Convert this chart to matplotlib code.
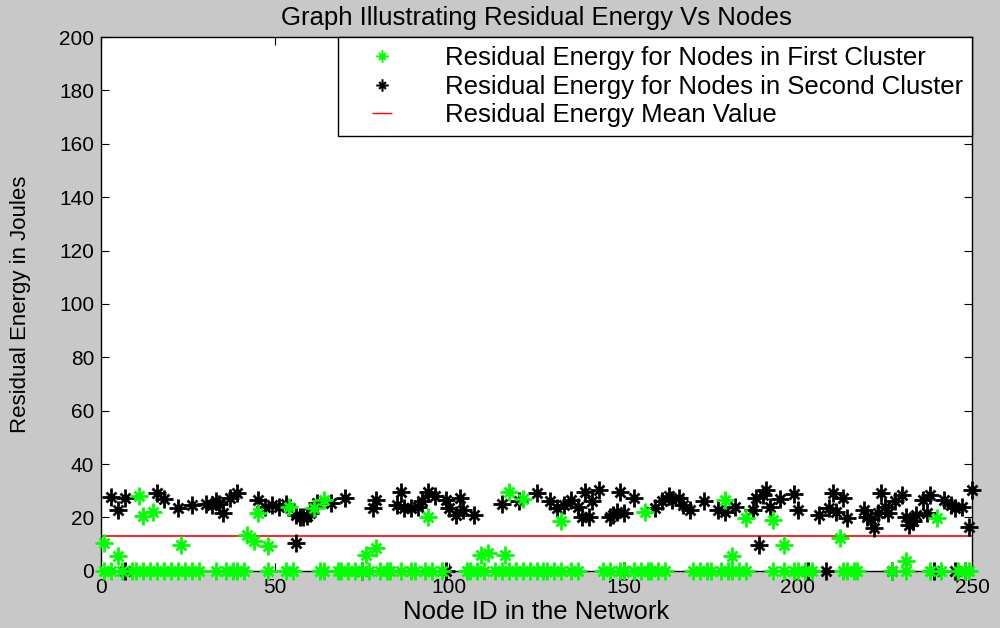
import matplotlib
matplotlib.use("Agg")
from matplotlib import pyplot as plt
from matplotlib.path import Path
from matplotlib.lines import Line2D

# node ids / residual energy, first cluster (green)
g_nodes = [1, 5, 11, 12, 15, 23, 42, 44, 45, 48, 54, 61, 64, 76, 79, 94,
           109, 111, 116, 117, 121, 132, 156, 179, 181, 185, 193, 196, 212, 231, 240]
g_energy = [10.4, 5.4, 28.2, 20.7, 22.0, 9.7, 13.5, 11.2, 21.6, 9.3, 24.1, 23.5, 26.6, 6.0, 8.5, 20.3,
            6.0, 6.8, 6.0, 29.7, 27.0, 18.5, 22.0, 26.6, 5.4, 19.7, 19.1, 9.5, 12.2, 3.7, 19.7]
# first cluster nodes that are drained (0 J)
g_dead = [1, 3, 6, 9, 10, 12, 14, 16, 18, 20, 22, 24, 26, 28, 33, 36, 38, 39, 41, 48, 53, 55,
          63, 64, 68, 69, 71, 73, 75, 77, 80, 82, 83, 86, 89, 90, 93, 95, 98, 105, 106, 108, 110,
          113, 115, 117, 119, 121, 123, 125, 127, 128, 130, 132, 135, 137, 144, 146, 149, 150, 153,
          155, 157, 158, 160, 162, 170, 172, 174, 175, 178, 180, 181, 183, 185, 193, 196, 199, 200,
          202, 204, 213, 214, 216, 217, 227, 231, 238, 241, 246, 248, 249]

# second cluster (black)
k_nodes = [3, 5, 7, 16, 18, 22, 26, 30, 32, 33, 34, 35, 37, 39, 45, 47, 49, 51, 53, 56, 56, 57,
           58, 59, 60, 62, 66, 70, 78, 79, 85, 86, 87, 89, 91, 92, 94, 96, 99, 100, 102, 103, 104,
           107, 115, 120, 125, 129, 131, 133, 135, 137, 138, 139, 140, 141, 143, 146, 147, 148,
           149, 150, 153, 159, 161, 163, 164, 166, 167, 169, 173, 177, 179, 182, 187, 188, 189,
           190, 191, 192, 195, 199, 200, 206, 209, 210, 211, 213, 214, 219, 220, 221, 222, 223,
           224, 225, 226, 228, 230, 231, 232, 233, 234, 236, 237, 238, 242, 244, 245, 247, 249, 250]
k_energy = [27.5, 22.8, 27.2, 29.1, 27.0, 23.5, 24.5, 25.0, 24.5, 26.0, 25.0, 21.6, 27.2, 29.1,
            26.6, 24.1, 24.5, 24.0, 25.0, 21.0, 10.4, 20.0, 20.0, 20.5, 21.5, 25.5, 25.4, 27.2,
            23.5, 26.6, 24.7, 29.7, 23.5, 23.5, 24.0, 26.2, 29.7, 28.2, 26.6, 23.5, 21.0, 27.2,
            22.8, 21.0, 25.0, 26.2, 29.1, 26.0, 23.5, 24.7, 26.6, 24.1, 20.3, 29.7, 20.3, 26.0,
            30.3, 20.0, 21.0, 22.0, 29.7, 21.6, 27.2, 23.5, 26.2, 28.2, 26.6, 27.2, 24.7, 22.8,
            26.2, 22.8, 22.2, 24.1, 22.8, 27.2, 9.7, 28.5, 30.3, 24.1, 27.0, 28.7, 22.8, 21.0,
            23.5, 29.1, 22.2, 27.2, 19.7, 22.8, 20.3, 19.5, 16.0, 21.6, 29.1, 24.1, 21.6, 26.0,
            28.5, 20.3, 17.2, 18.5, 21.0, 26.6, 21.6, 28.5, 26.6, 24.7, 23.5, 24.1, 16.6, 30.3]
k_dead = [7, 75, 99, 150, 203, 208, 227, 239, 245, 248]

mean_energy = 13.2

# MATLAB style '*' marker: long cross + short diagonals
a = 0.55
star = Path([(-1, 0), (1, 0), (0, -1), (0, 1), (-a, -a), (a, a), (-a, a), (a, -a)],
            [Path.MOVETO, Path.LINETO] * 4)

plt.rcParams['font.family'] = ['Liberation Sans', 'DejaVu Sans']

fig = plt.figure(figsize=(10, 6.28), dpi=100, facecolor='#c8c8c8')
ax = fig.add_axes([0.101, 0.091, 0.871, 0.850])

ax.plot(g_nodes + g_dead, g_energy + [0] * len(g_dead), linestyle='none', marker=star,
        color='#00ff00', markersize=13, mew=2.0, clip_on=False, zorder=3)
ax.plot(k_nodes + k_dead, k_energy + [0] * len(k_dead), linestyle='none', marker=star,
        color='black', markersize=13, mew=2.0, clip_on=False, zorder=2)
ax.plot([0, 250], [mean_energy, mean_energy], color='#ff0000', linewidth=1.2, zorder=1)

ax.set_xlim(0, 250)
ax.set_ylim(0, 200)
ax.set_xticks(range(0, 251, 50))
ax.set_yticks(range(0, 201, 20))
ax.tick_params(direction='in', top=True, right=True, length=6, labelsize=15, pad=5)
for s in ax.spines.values():
    s.set_linewidth(1.0)

ax.set_title('Graph Illustrating Residual Energy Vs Nodes', fontsize=18.5, pad=9)
ax.set_xlabel('Node ID in the Network', fontsize=18.5, labelpad=2)
ax.set_ylabel('Residual Energy in Joules', fontsize=16, labelpad=20)

handles = [
    Line2D([], [], linestyle='none', marker=star, color='#00ff00', markersize=9, mew=1.5),
    Line2D([], [], linestyle='none', marker=star, color='black', markersize=9, mew=1.5),
    Line2D([], [], linestyle='none', marker='_', color='#ff0000', markersize=14, mew=1.0),
]
labels = ['Residual Energy for Nodes in First Cluster',
          'Residual Energy for Nodes in Second Cluster',
          'Residual Energy Mean Value']
leg = ax.legend(handles, labels, loc='upper right', borderaxespad=0, fontsize=18.5,
                fancybox=False, framealpha=1, edgecolor='black', borderpad=0.35,
                handlelength=2.7, handletextpad=1.1, labelspacing=0.18)
leg.get_frame().set_linewidth(1.0)

fig.savefig('out.png', dpi=100, facecolor=fig.get_facecolor())
